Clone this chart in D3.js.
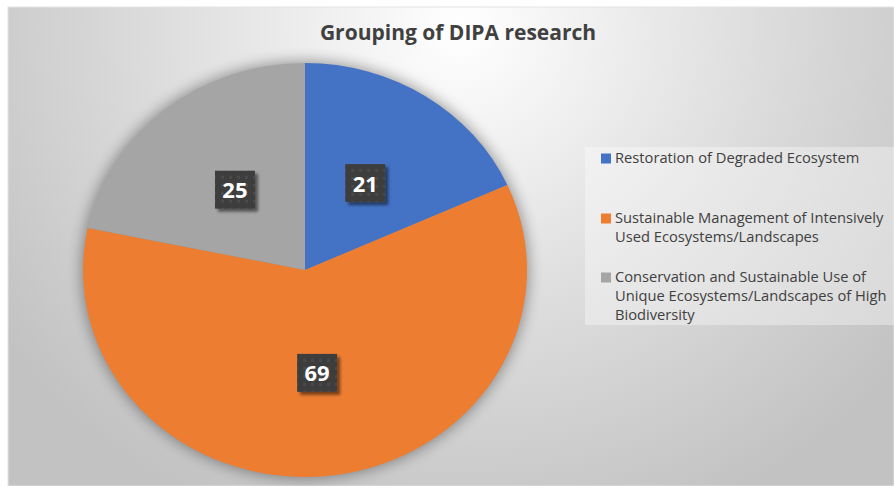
<!DOCTYPE html>
<html>
<head>
<meta charset="utf-8">
<script src="https://cdn.jsdelivr.net/npm/d3@7"></script>
<style>
  body { margin: 0; background: #ffffff; }
  svg { display: block; }
</style>
</head>
<body>
<script>
// Chart data
var categories = [
  "Restoration of Degraded Ecosystem",
  "Sustainable Management of Intensively Used Ecosystems/Landscapes",
  "Conservation and Sustainable Use of Unique Ecosystems/Landscapes of High Biodiversity"
];
var counts = [21, 69, 25];
var colors = ["#4472C4", "#ED7D31", "#A5A5A5"];
// legend text wrapped the way it is in the picture
var legendLines = [
  ["Restoration of Degraded Ecosystem"],
  ["Sustainable Management of Intensively", "Used Ecosystems/Landscapes"],
  ["Conservation and Sustainable Use of", "Unique Ecosystems/Landscapes of High", "Biodiversity"]
];
var chartTitle = "Grouping of DIPA research";

window.onload = drawChart();

function drawChart(){

  var width = 894,
      height = 486;
  var font = "'Open Sans', Lato, sans-serif";

  var svg = d3.select("body")
    .append("svg")
    .attr("width", width)
    .attr("height", height);

  var defs = svg.append("defs");

  // Radial gradient behind the chart
  var grad = defs.append("radialGradient")
    .attr("id", "bg")
    .attr("gradientUnits", "userSpaceOnUse")
    .attr("cx", 460).attr("cy", 30).attr("r", 560)
    .attr("gradientTransform", "translate(460,30) scale(1,0.95) translate(-460,-30)");
  grad.append("stop").attr("offset", "0").attr("stop-color", "#ffffff");
  grad.append("stop").attr("offset", "0.55").attr("stop-color", "#dcdcdc");
  grad.append("stop").attr("offset", "1").attr("stop-color", "#c2c2c2");

  // Soft shadow round the pie
  var pieShadow = defs.append("filter").attr("id", "pieShadow")
    .attr("x", "-20%").attr("y", "-20%").attr("width", "140%").attr("height", "140%");
  pieShadow.append("feGaussianBlur").attr("stdDeviation", 7);

  // Shadow under the label boxes
  var boxShadow = defs.append("filter").attr("id", "boxShadow")
    .attr("x", "-30%").attr("y", "-30%").attr("width", "160%").attr("height", "160%");
  boxShadow.append("feGaussianBlur").attr("in", "SourceAlpha").attr("stdDeviation", 1.5).attr("result", "b");
  boxShadow.append("feOffset").attr("in", "b").attr("dx", 3).attr("dy", 3).attr("result", "o");
  boxShadow.append("feComponentTransfer").attr("in", "o").attr("result", "s")
    .append("feFuncA").attr("type", "linear").attr("slope", 0.5);
  var merge = boxShadow.append("feMerge");
  merge.append("feMergeNode").attr("in", "s");
  merge.append("feMergeNode").attr("in", "SourceGraphic");

  // Little dotted texture on the label boxes
  var pat = defs.append("pattern").attr("id", "boxPat")
    .attr("patternUnits", "userSpaceOnUse")
    .attr("width", 8).attr("height", 8);
  pat.append("rect").attr("width", 8).attr("height", 8).attr("fill", "#3d3d3d");
  pat.append("rect").attr("x", 2).attr("y", 2).attr("width", 3).attr("height", 3).attr("fill", "#4a4a4a");

  // Chart area
  svg.append("rect")
    .attr("x", 8).attr("y", 7)
    .attr("width", width - 8).attr("height", height - 7)
    .attr("fill", "url(#bg)")
    .attr("stroke", "#e4e4e4")
    .attr("stroke-width", 1);

  // Title
  svg.append("text")
    .attr("x", 458).attr("y", 40)
    .attr("text-anchor", "middle")
    .attr("font-family", font)
    .attr("font-weight", "bold")
    .attr("font-size", 21)
    .attr("fill", "#404040")
    .text(chartTitle);

  // Pie (Excel stretched it a little sideways)
  var cx = 305, cy = 270,
      r = 207, sx = 222 / 207;

  var pie = d3.pie().sort(null).value(function(d){ return d; });
  var arc = d3.arc().innerRadius(0).outerRadius(r);
  var labelArc = d3.arc().innerRadius(r * 0.5).outerRadius(r * 0.5);
  var arcs = pie(counts);

  var g = svg.append("g")
    .attr("transform", "translate(" + cx + "," + cy + ")");

  g.append("ellipse")
    .attr("rx", r * sx + 2).attr("ry", r + 2)
    .attr("fill", "#000")
    .attr("opacity", 0.35)
    .attr("filter", "url(#pieShadow)");

  g.append("g")
    .attr("transform", "scale(" + sx + ",1)")
    .selectAll("path")
    .data(arcs)
    .enter()
    .append("path")
    .attr("d", arc)
    .attr("fill", function(d, i){ return colors[i]; });

  // Value labels in dark boxes
  var labels = g.selectAll(".lbl")
    .data(arcs)
    .enter()
    .append("g")
    .attr("class", "lbl")
    .attr("transform", function(d){
      var c = labelArc.centroid(d);
      return "translate(" + (c[0] * sx) + "," + c[1] + ")";
    });

  labels.append("rect")
    .attr("x", -20).attr("y", -19)
    .attr("width", 40).attr("height", 38)
    .attr("fill", "url(#boxPat)")
    .attr("filter", "url(#boxShadow)");

  labels.append("text")
    .attr("text-anchor", "middle")
    .attr("y", 8.5)
    .attr("font-family", font)
    .attr("font-weight", "bold")
    .attr("font-size", 22)
    .attr("fill", "#ffffff")
    .text(function(d){ return d.data; });

  // Legend
  svg.append("rect")
    .attr("x", 585).attr("y", 147)
    .attr("width", width - 585).attr("height", 178)
    .attr("fill", "#ffffff")
    .attr("opacity", 0.35);

  var legendTop = [163, 223, 282];
  var legend = svg.selectAll(".legendItem")
    .data(legendLines)
    .enter()
    .append("g")
    .attr("class", "legendItem")
    .attr("transform", function(d, i){ return "translate(601," + legendTop[i] + ")"; });

  legend.append("rect")
    .attr("x", 0).attr("y", -9.5)
    .attr("width", 10).attr("height", 10)
    .attr("fill", function(d, i){ return colors[i]; });

  legend.append("text")
    .attr("font-family", font)
    .attr("font-size", 14.7)
    .attr("fill", "#404040")
    .selectAll("tspan")
    .data(function(d){ return d; })
    .enter()
    .append("tspan")
    .attr("x", 14)
    .attr("y", function(d, j){ return j * 19; })
    .text(function(d){ return d; });
};
</script>
</body>
</html>
